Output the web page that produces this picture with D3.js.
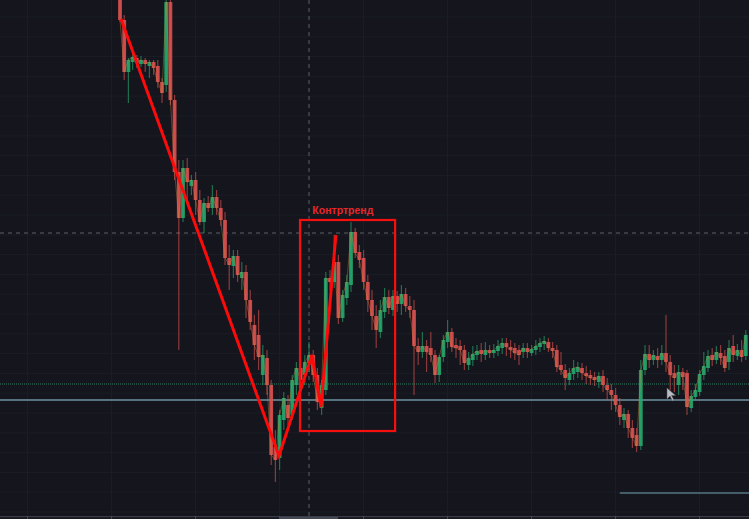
<!DOCTYPE html>
<html><head><meta charset="utf-8">
<script src="https://cdn.jsdelivr.net/npm/d3@7"></script>
<style>html,body{margin:0;padding:0;background:#15161d;overflow:hidden}</style>
</head><body>
<svg id="c" width="749" height="519"></svg>
<script>
const openP  = [610,580,528,538,542,536,540,534,538,534,518,515,598,500,428,382,432,414,420,400,378,397,392,403,392,380,342,334,344,322,328,300,275,265,225,242,215,153,142,180,195,185,215,232,225,237,245,225,192,210,322,318,338,282,302,315,368,348,342,318,300,284,268,288,303,290,304,296,306,294,290,254,248,254,252,245,225,243,258,268,255,254,250,235,240,245,250,245,250,247,249,252,257,253,252,250,248,252,247,250,253,256,258,252,250,235,230,220,226,228,232,227,225,223,218,224,215,210,205,195,180,186,172,165,154,230,246,240,244,240,247,238,227,215,228,227,192,203,208,225,232,245,240,247,244,238,254,244,250,244];
const closeP = [580,528,540,543,537,540,536,538,532,518,507,598,500,428,382,432,418,420,400,378,397,392,403,392,380,342,335,344,325,328,300,278,255,243,245,215,145,140,185,202,182,220,232,220,238,245,225,198,215,322,318,338,282,305,318,368,347,340,318,300,284,270,290,303,292,304,296,306,294,290,254,248,254,248,245,225,243,260,268,253,252,250,237,242,246,249,246,250,247,250,254,257,253,250,247,245,252,248,251,254,257,259,252,249,233,230,222,227,232,233,227,224,222,220,224,215,210,205,195,183,186,172,162,154,230,246,240,245,240,247,238,225,222,228,223,193,204,210,226,234,244,240,248,242,232,252,245,250,243,265];
const highP  = [620,585,542,548,545,544,542,540,540,540,522,605,605,505,440,440,442,425,428,410,402,404,415,410,400,388,355,350,350,338,335,310,285,290,255,250,220,170,190,208,205,225,238,240,245,258,250,232,220,328,330,365,345,310,325,378,372,355,350,325,310,295,300,312,310,310,309,315,312,304,300,262,268,260,268,250,245,265,280,272,262,260,255,248,254,255,257,258,255,256,260,262,262,260,257,255,257,257,255,260,262,264,262,258,255,248,236,232,240,238,237,234,230,228,228,230,222,216,212,202,192,190,180,172,240,255,255,250,252,255,285,245,235,235,232,230,210,216,230,248,250,252,254,255,250,260,265,256,260,270];
const lowP   = [578,520,497,530,532,533,528,522,525,512,497,508,495,420,250,378,400,405,385,375,367,388,385,385,374,335,310,322,318,310,282,270,240,230,215,205,135,118,130,170,175,180,205,212,215,228,218,190,185,205,310,312,276,278,295,308,342,332,310,288,270,252,262,282,286,284,288,285,288,282,205,235,242,228,238,217,218,238,252,248,242,235,230,230,234,240,238,240,242,242,244,246,244,242,240,235,242,242,244,245,248,250,248,242,228,225,210,215,220,222,220,216,215,214,212,208,200,190,188,175,172,162,152,148,150,225,232,235,232,235,228,210,208,205,210,185,188,200,204,220,228,234,236,235,228,230,238,240,238,240];

const trendIdx   = [0.24, 37.86, 45.7, 47.86, 51.4];
const trendPrice = [581, 144, 245, 193, 365];
const boxIdx     = [42.86, 65.5];
const boxPrice   = [380, 169];
const boxLabel   = "Контртренд";
const crossIdx   = 45;
const crossPrice = 367;
const levelGreen = 216;
const levelBlue  = 200;
const levelShort = 107;
const shortFromIdx = 119;
const vGridIdx   = d3.range(-22, 160, 20);
const hGridPrice = d3.range(583, 81, -19.8);

const W = 749, H = 519;
const svg = d3.select("#c");
const x = d3.scaleLinear().domain([0, 149]).range([120, 745.8]);
const y = d3.scaleLinear().domain([81, 600]).range([519, 0]);
const bw = 3.8;

svg.append("rect").attr("width", W).attr("height", H).attr("fill", "#15161d");

// grid
svg.append("g").selectAll("line").data(vGridIdx).join("line")
  .attr("x1", d => x(d)).attr("x2", d => x(d)).attr("y1", 0).attr("y2", 516)
  .attr("stroke", "#1c1e27").attr("stroke-width", 1);
svg.append("g").selectAll("line").data(hGridPrice).join("line")
  .attr("x1", 0).attr("x2", W).attr("y1", d => y(d)).attr("y2", d => y(d))
  .attr("stroke", "#1b1d26").attr("stroke-width", 1);

// crosshair
svg.append("line").attr("x1", x(crossIdx)).attr("x2", x(crossIdx)).attr("y1", 0).attr("y2", 516)
  .attr("stroke", "#5c5f68").attr("stroke-width", 1).attr("stroke-dasharray", "4,4");
svg.append("line").attr("x1", 0).attr("x2", W).attr("y1", y(crossPrice)).attr("y2", y(crossPrice))
  .attr("stroke", "#5c5f68").attr("stroke-width", 1).attr("stroke-dasharray", "4,4");

// levels
svg.append("line").attr("x1", 0).attr("x2", W).attr("y1", y(levelGreen)).attr("y2", y(levelGreen))
  .attr("stroke", "#2f7a5c").attr("stroke-width", 1).attr("stroke-dasharray", "1,1");
svg.append("line").attr("x1", 0).attr("x2", W).attr("y1", y(levelBlue)).attr("y2", y(levelBlue))
  .attr("stroke", "#56737f").attr("stroke-width", 2);
svg.append("line").attr("x1", x(shortFromIdx)).attr("x2", W).attr("y1", y(levelShort)).attr("y2", y(levelShort))
  .attr("stroke", "#455d69").attr("stroke-width", 2);

// candles
const candles = openP.map((o, i) => ({i, o, c: closeP[i], h: highP[i], l: lowP[i]}));
const up = "#27a96c", dn = "#dc5250";
const g = svg.append("g");
g.selectAll("line.w").data(candles).join("line").attr("class", "w")
  .attr("x1", d => x(d.i)).attr("x2", d => x(d.i))
  .attr("y1", d => y(d.h)).attr("y2", d => y(d.l))
  .attr("stroke", d => d.c >= d.o ? up : dn).attr("stroke-opacity", 0.6).attr("stroke-width", 1.2);
g.selectAll("rect.b").data(candles).join("rect").attr("class", "b")
  .attr("x", d => x(d.i) - bw / 2).attr("width", bw)
  .attr("y", d => y(Math.max(d.o, d.c)))
  .attr("height", d => Math.max(2, Math.abs(y(d.o) - y(d.c))))
  .attr("fill", d => d.c >= d.o ? up : dn).attr("fill-opacity", 0.88);

// thin average line through closes
svg.append("path").datum(candles)
  .attr("d", d3.line().x(d => x(d.i)).y(d => y(d.c)))
  .attr("fill", "none").attr("stroke", "#c98a3a").attr("stroke-opacity", 0.4).attr("stroke-width", 1);

// red trend drawing
const tp = trendIdx.map((t, k) => [x(t), y(trendPrice[k])]);
svg.append("path").attr("d", d3.line()(tp))
  .attr("fill", "none").attr("stroke", "#ff0a0a").attr("stroke-width", 3).attr("stroke-linejoin", "miter");

// box
svg.append("rect").attr("x", x(boxIdx[0])).attr("y", y(boxPrice[0]))
  .attr("width", x(boxIdx[1]) - x(boxIdx[0])).attr("height", y(boxPrice[1]) - y(boxPrice[0]))
  .attr("fill", "none").attr("stroke", "#f50f0f").attr("stroke-width", 2.2);
svg.append("text").attr("x", x(45.8)).attr("y", y(boxPrice[0]) - 6)
  .attr("fill", "#e8262a").attr("font-family", "'Liberation Sans', Arial, sans-serif")
  .attr("font-weight", "bold").attr("font-size", 10.5).text(boxLabel);

// bottom axis
svg.append("rect").attr("x", 0).attr("y", 516).attr("width", W).attr("height", 3).attr("fill", "#1a1c24");
svg.append("line").attr("x1", 0).attr("x2", W).attr("y1", 516.5).attr("y2", 516.5).attr("stroke", "#3a3e48");
svg.append("rect").attr("x", x(crossIdx) - 29).attr("y", 517).attr("width", 58).attr("height", 2).attr("fill", "#444854");
svg.append("g").selectAll("line").data(vGridIdx).join("line")
  .attr("x1", d => x(d)).attr("x2", d => x(d)).attr("y1", 516).attr("y2", 519).attr("stroke", "#4a4e58");

// mouse cursor
const cx = 667, cy = 388;
svg.append("path").attr("d", `M${cx},${cy} l0,11 l3,-3 l2.5,5 l1.5,-0.8 l-2.4,-4.8 l4,0 z`)
  .attr("fill", "#b9bcc3").attr("stroke", "#555").attr("stroke-width", 0.5);
</script>
</body></html>
